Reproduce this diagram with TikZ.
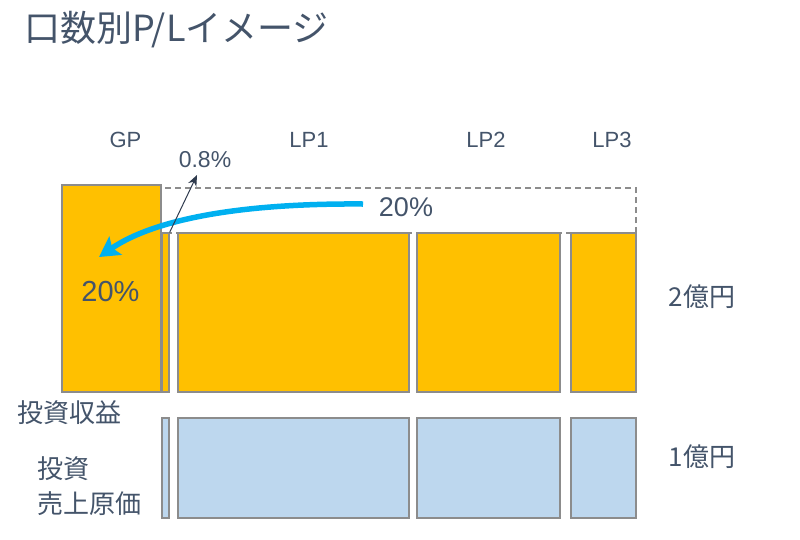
\documentclass[tikz,border=0pt]{standalone}
\usepackage{fontspec}
\setmainfont{Liberation Sans}
\newfontfamily\jp{Noto Sans CJK JP}
\usetikzlibrary{arrows.meta}
\definecolor{txt}{HTML}{44546A}
\definecolor{gold}{HTML}{FFC000}
\definecolor{paleblue}{HTML}{BDD7EE}
\definecolor{edge}{HTML}{8C8C8C}
\definecolor{flow}{HTML}{00B0F0}
\definecolor{ink}{HTML}{2F3B4E}
\begin{document}
\begin{tikzpicture}[x=1pt,y=-1pt,
  obox/.style={draw=edge, line width=1.3pt, fill=gold, inner sep=0pt},
  bbox/.style={draw=edge, line width=1.3pt, fill=paleblue, inner sep=0pt},
  lbl/.style={text=txt, inner sep=0pt, font=\fontsize{#1}{#1}\selectfont}]
\useasboundingbox (0,0) rectangle (800,539);
\node[lbl=36, anchor=west] (title) at (24,30) {\jp 口数別P/Lイメージ};
% headings
\node[lbl=22] (gphead) at (125.5,139.5) {GP};
\node[lbl=22] (lp1head) at (309,139.5) {LP1};
\node[lbl=22] (lp2head) at (486,139.5) {LP2};
\node[lbl=22] (lp3head) at (612,139.5) {LP3};
% dashed outline of the 20% share
\draw[edge, line width=1.1pt, dash pattern=on 6pt off 4pt] (161,188) rectangle (636,233);
% revenue row
\node[obox, minimum width=99pt, minimum height=207pt] (gp) at (111.5,288.5) {};
\node[obox, minimum width=7pt, minimum height=159pt] (sliceo) at (165.5,312.5) {};
\node[obox, minimum width=231pt, minimum height=159pt] (lp1o) at (293.5,312.5) {};
\node[obox, minimum width=143pt, minimum height=159pt] (lp2o) at (488.5,312.5) {};
\node[obox, minimum width=65pt, minimum height=159pt] (lp3o) at (603.5,312.5) {};
% cost row
\node[bbox, minimum width=7pt, minimum height=100pt] (sliceb) at (165.5,468) {};
\node[bbox, minimum width=231pt, minimum height=100pt] (lp1b) at (293.5,468) {};
\node[bbox, minimum width=143pt, minimum height=100pt] (lp2b) at (488.5,468) {};
\node[bbox, minimum width=65pt, minimum height=100pt] (lp3b) at (603.5,468) {};
% labels
\node[lbl=23] (small) at (205,160) {0.8\%};
\node[lbl=27] (share) at (406,207) {20\%};
\node[lbl=29] (gpshare) at (110.5,291.5) {20\%};
\node[lbl=26] (rev) at (702,296.5) {\jp 2億円};
\node[lbl=26] (cost) at (702,456.5) {\jp 1億円};
\node[lbl=26, anchor=west] (gain) at (17,412.5) {\jp 投資収益};
\node[lbl=26, anchor=west] (inv) at (37,469) {\jp 投資};
\node[lbl=26, anchor=west] (cogs) at (37,503.5) {\jp 売上原価};
% arrows
\coordinate (tail) at (363,204);
\coordinate (head) at (99,257);
\coordinate (tip) at (197,175);
\draw[flow, line width=5.5pt, -{Stealth[length=20pt, width=22pt, inset=4pt]}]
  (tail) .. controls (230,203) and (150,222) .. (head);
\draw[ink, line width=1pt, -{Stealth[length=11pt, width=9pt]}] (sliceo.north east) -- (tip);
\end{tikzpicture}
\end{document}
